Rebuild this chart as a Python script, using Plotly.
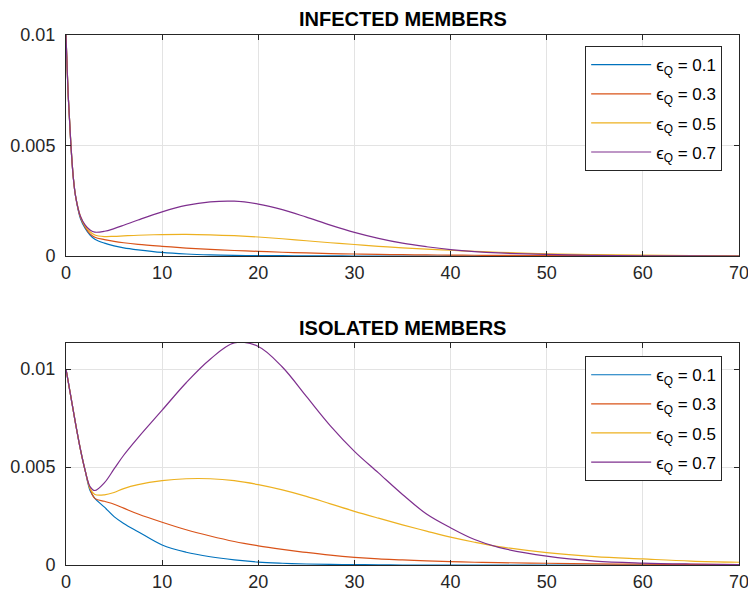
import plotly.graph_objects as go
from plotly.subplots import make_subplots

# time grid (days)
t = [0, 0.25, 0.5, 0.75, 1, 1.5, 2, 2.5, 3, 4, 5, 6, 7.5, 10, 12.5, 15, 17.5,
     20, 22.5, 25, 27.5, 30, 32.5, 35, 37.5, 40, 42.5, 45, 50, 55, 60, 65, 70]

eps_labels = ["0.1", "0.3", "0.5", "0.7"]
colors = ["#0072BD", "#D95319", "#EDB120", "#7E2F8E"]

# infected members, one list per epsilon_Q
inf_01 = [0.01, 0.0071, 0.0051, 0.0036, 0.0027, 0.0017, 0.00125, 0.00095, 0.00076,
          0.00058, 0.00046, 0.00037, 0.00028, 0.00016, 0.00009, 0.00005, 0.00003,
          0.00002, 0.000015, 0.00001, 0.000005, 0.0, 0.0, 0.0, 0.0, 0.0, 0.0,
          0.0, 0.0, 0.0, 0.0, 0.0, 0.0]
inf_03 = [0.01, 0.0071, 0.0051, 0.0036, 0.0027, 0.00175, 0.0013, 0.001, 0.00085,
          0.00074, 0.00066, 0.0006, 0.00053, 0.00044, 0.00036, 0.0003, 0.00025,
          0.00021, 0.00017, 0.00014, 0.00011, 0.00009, 0.00007, 0.00006, 0.00005,
          0.00004, 0.000035, 0.00003, 0.00002, 0.000015, 0.00001, 0.000005, 0.0]
inf_05 = [0.01, 0.0071, 0.0051, 0.0036, 0.0027, 0.0018, 0.00135, 0.0011, 0.00095,
          0.00088, 0.00089, 0.00091, 0.00094, 0.00097, 0.00098, 0.00096, 0.00092,
          0.00086, 0.00078, 0.00069, 0.0006, 0.00052, 0.00044, 0.00037, 0.00031,
          0.00026, 0.00021, 0.00017, 0.0001, 0.00006, 0.00004, 0.00002, 0.00001]
inf_07 = [0.01, 0.0071, 0.0051, 0.0036, 0.0027, 0.0018, 0.0014, 0.00118, 0.00108,
          0.00112, 0.00124, 0.00139, 0.00163, 0.002, 0.00229, 0.00245, 0.00248,
          0.00235, 0.0021, 0.00176, 0.0014, 0.00107, 0.0008, 0.00058, 0.00042,
          0.00029, 0.0002, 0.00014, 0.00007, 0.00003, 0.00001, 0.000005, 0.0]

# isolated members, one list per epsilon_Q
iso_01 = [0.01, 0.0093, 0.0086, 0.0079, 0.0072, 0.0059, 0.0048, 0.0038, 0.0034,
          0.00295, 0.00247, 0.00212, 0.0017, 0.00102, 0.00065, 0.00042, 0.00026,
          0.00015, 0.00009, 0.00005, 0.00003, 0.00002, 0.00001, 0.0, 0.0, 0.0,
          0.0, 0.0, 0.0, 0.0, 0.0, 0.0, 0.0]
iso_03 = [0.01, 0.0093, 0.0086, 0.0079, 0.0072, 0.0059, 0.0048, 0.0039, 0.0034,
          0.00325, 0.0031, 0.0029, 0.0026, 0.00218, 0.0018, 0.00148, 0.0012,
          0.00098, 0.0008, 0.00064, 0.0005, 0.00039, 0.00031, 0.00026, 0.00021,
          0.00017, 0.00014, 0.00012, 0.00009, 0.00006, 0.00004, 0.00003, 0.00002]
iso_05 = [0.01, 0.0093, 0.0086, 0.0079, 0.0072, 0.0059, 0.0048, 0.0039, 0.0036,
          0.00358, 0.0037, 0.0039, 0.0041, 0.0043, 0.0044, 0.0044, 0.0043,
          0.0041, 0.00383, 0.0035, 0.00312, 0.00274, 0.00239, 0.00205, 0.00173,
          0.00142, 0.00116, 0.00094, 0.00063, 0.00043, 0.00031, 0.0002, 0.00014]
iso_07 = [0.01, 0.0093, 0.0086, 0.0079, 0.0072, 0.0059, 0.0048, 0.004, 0.0038,
          0.0042, 0.0049, 0.0056, 0.0065, 0.0079, 0.0093, 0.0105, 0.01133,
          0.01115, 0.0101, 0.0086, 0.0071, 0.0058, 0.0047, 0.0036, 0.0026,
          0.0019, 0.0013, 0.0009, 0.00045, 0.0002, 0.0001, 0.00005, 0.00002]

infected = [inf_01, inf_03, inf_05, inf_07]
isolated = [iso_01, iso_03, iso_05, iso_07]

y_ticks = [0, 0.005, 0.01]
y_ticktext = ["0", "0.005", "0.01"]
x_ticks = [0, 10, 20, 30, 40, 50, 60, 70]

FONT = "Liberation Sans, Arial, Helvetica, sans-serif"
AXC = "#262626"
GRID = "#e3e3e3"

fig = make_subplots(rows=2, cols=1, vertical_spacing=0.1642)

for i, (lab, col) in enumerate(zip(eps_labels, colors)):
    name = "\u03f5<sub>Q</sub> = " + lab
    fig.add_trace(go.Scatter(
        x=t, y=infected[i], mode="lines", name=name,
        line=dict(color=col, width=1.2, shape="spline", smoothing=1.0),
        legend="legend", legendgroup="a" + lab), row=1, col=1)
    fig.add_trace(go.Scatter(
        x=t, y=isolated[i], mode="lines", name=name,
        line=dict(color=col, width=1.2, shape="spline", smoothing=1.0),
        legend="legend2", legendgroup="b" + lab), row=2, col=1)

axis_common = dict(
    showline=True, linecolor=AXC, linewidth=1, mirror="ticks",
    ticks="inside", ticklen=5, tickcolor=AXC, tickwidth=1,
    showgrid=True, gridcolor=GRID, gridwidth=1, zeroline=False,
    automargin=False,
    tickfont=dict(family=FONT, size=18, color=AXC),
)

for r in (1, 2):
    fig.update_xaxes(range=[0, 70], tickvals=x_ticks, ticklabeloverflow="allow",
                     row=r, col=1, **axis_common)

fig.update_yaxes(range=[0, 0.01], tickvals=y_ticks, ticktext=y_ticktext,
                 ticklabelstandoff=6, row=1, col=1, **axis_common)
fig.update_yaxes(range=[0, max(max(s) for s in isolated)], tickvals=y_ticks,
                 ticktext=y_ticktext, ticklabelstandoff=6, row=2, col=1,
                 **axis_common)

fig.update_xaxes(domain=[0, 1])
fig.update_yaxes(domain=[0.583, 1], row=1, col=1)
fig.update_yaxes(domain=[0, 0.419], row=2, col=1)

legend_common = dict(
    xanchor="right", yanchor="top", bgcolor="white",
    bordercolor=AXC, borderwidth=1, itemwidth=60, tracegroupgap=4,
    font=dict(family=FONT, size=17, color="#000000"),
)

fig.update_layout(
    width=748, height=596,
    margin=dict(l=66, r=9, t=35, b=31),
    plot_bgcolor="white", paper_bgcolor="white",
    showlegend=True,
    legend=dict(x=0.975, y=0.979, **legend_common),
    legend2=dict(x=0.975, y=0.394, **legend_common),
    annotations=[
        dict(text="<b>INFECTED MEMBERS</b>", x=0.5, y=1.03, xref="paper",
             yref="paper", xanchor="center", yanchor="middle",
             showarrow=False, font=dict(family=FONT, size=20, color="#000")),
        dict(text="<b>ISOLATED MEMBERS</b>", x=0.5, y=0.448, xref="paper",
             yref="paper", xanchor="center", yanchor="middle",
             showarrow=False, font=dict(family=FONT, size=20, color="#000")),
    ],
)

fig.write_html("out.html")
